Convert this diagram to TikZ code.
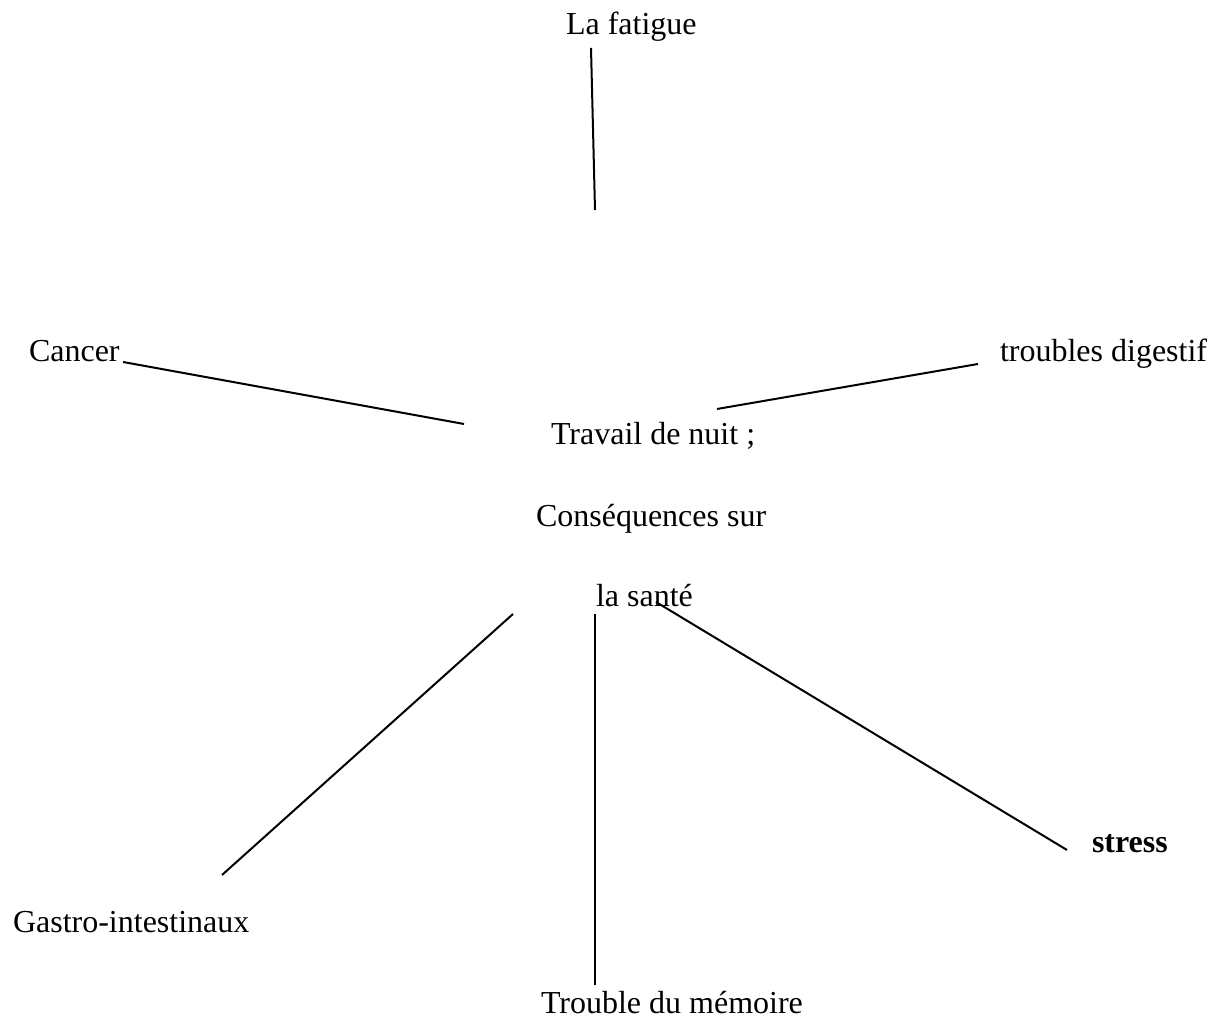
\documentclass[tikz,border=0pt]{standalone}
\usepackage{fontspec}
\setmainfont{Liberation Serif}

\tikzset{every picture/.style={line width=0.75pt}}
\tikzset{lbl/.style={anchor=base west,inner sep=0pt,font=\fontsize{12}{14}\selectfont}}

\begin{document}
\begin{tikzpicture}[x=0.375pt,y=0.375pt,yscale=-1,xscale=1]
	\useasboundingbox (0,0) rectangle (1217,1021);
	
	% Text Node
	\node [lbl] (fatigue) at (565,35) {La fatigue};
	% Text Node
	\node [lbl] (cancer) at (28,362) {Cancer};
	% Text Node
	\node [lbl] (digestif) at (999,362) {troubles digestif};
	% Text Node
	\node [lbl] (travail) at (550,445) {Travail de nuit ;};
	% Text Node
	\node [lbl] (consequences) at (535,527) {Conséquences sur};
	% Text Node
	\node [lbl] (sante) at (595,607) {la santé};
	% Text Node
	\node [lbl] (stress) at (1091,853) {\textbf{stress}};
	% Text Node
	\node [lbl] (gastro) at (12,933) {Gastro-intestinaux};
	% Text Node
	\node [lbl] (memoire) at (540,1013) {Trouble du mémoire};
	
	%Line ends
	\coordinate (fatigueA) at (591,48);
	\coordinate (fatigueB) at (595,210);
	\coordinate (cancerA) at (123,362);
	\coordinate (cancerB) at (464,424);
	\coordinate (digestifA) at (978,364);
	\coordinate (digestifB) at (717,409);
	\coordinate (gastroA) at (513,614);
	\coordinate (gastroB) at (222,875);
	\coordinate (memoireA) at (595,614);
	\coordinate (memoireB) at (595,985);
	\coordinate (stressA) at (656,602);
	\coordinate (stressB) at (1067,850);
	
	%Straight Lines
	\draw (fatigueA) -- (fatigueB);
	%Straight Lines
	\draw (cancerA) -- (cancerB);
	%Straight Lines
	\draw (digestifA) -- (digestifB);
	%Straight Lines
	\draw (gastroA) -- (gastroB);
	%Straight Lines
	\draw (memoireA) -- (memoireB);
	%Straight Lines
	\draw (stressA) -- (stressB);
	
\end{tikzpicture}
\end{document}
